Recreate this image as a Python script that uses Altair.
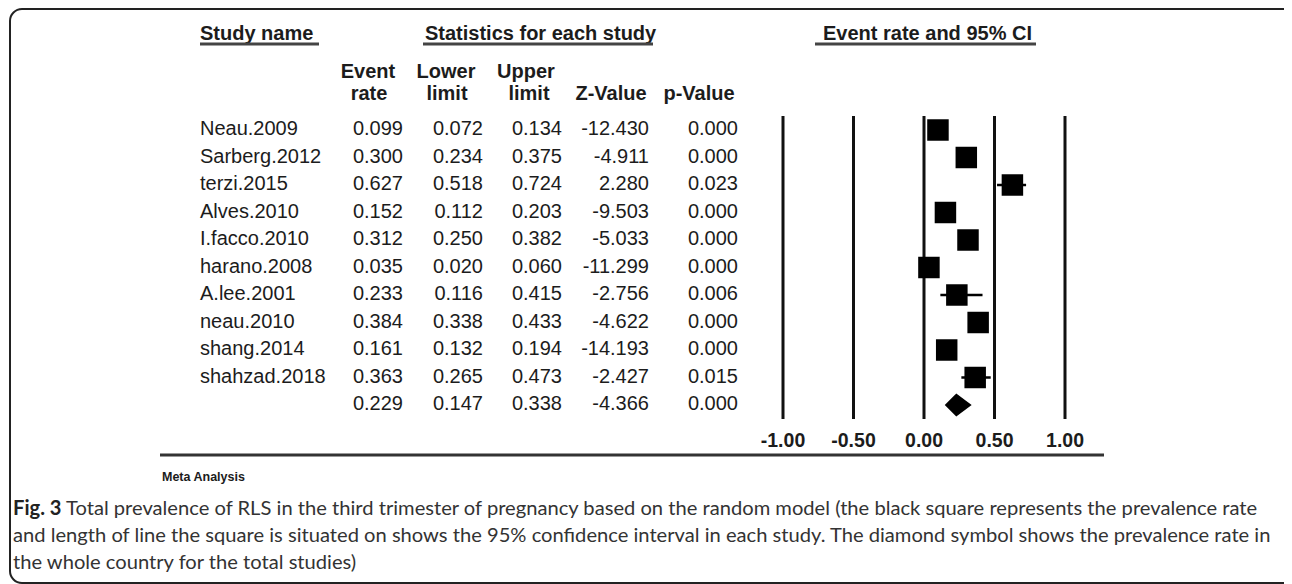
import altair as alt
import pandas as pd

# ---------------- data ----------------
studies = ["Neau.2009", "Sarberg.2012", "terzi.2015", "Alves.2010", "I.facco.2010",
           "harano.2008", "A.lee.2001", "neau.2010", "shang.2014", "shahzad.2018"]
event_rate = [0.099, 0.300, 0.627, 0.152, 0.312, 0.035, 0.233, 0.384, 0.161, 0.363]
lower_limit = [0.072, 0.234, 0.518, 0.112, 0.250, 0.020, 0.116, 0.338, 0.132, 0.265]
upper_limit = [0.134, 0.375, 0.724, 0.203, 0.382, 0.060, 0.415, 0.433, 0.194, 0.473]
z_value = [-12.430, -4.911, 2.280, -9.503, -5.033, -11.299, -2.756, -4.622, -14.193, -2.427]
p_value = [0.000, 0.000, 0.023, 0.000, 0.000, 0.000, 0.006, 0.000, 0.000, 0.015]

summary_rate = 0.229
summary_lower = 0.147
summary_upper = 0.338
summary_z = -4.366
summary_p = 0.000

axis_ticks = [-1.0, -0.5, 0.0, 0.5, 1.0]
axis_tick_labels = ["-1.00", "-0.50", "0.00", "0.50", "1.00"]

caption_bold = "Fig. 3"
caption_lines = [
    "Total prevalence of RLS in the third trimester of pregnancy based on the random model (the black square represents the prevalence rate",
    "and length of line the square is situated on shows the 95% confidence interval in each study. The diamond symbol shows the prevalence rate in",
    "the whole country for the total studies)",
]

# ---------------- tables ----------------
n = len(studies)
rows = list(range(n + 1))
table = pd.DataFrame({
    "row": rows,
    "name": studies + [""],
    "rate": [f"{v:.3f}" for v in event_rate + [summary_rate]],
    "lower": [f"{v:.3f}" for v in lower_limit + [summary_lower]],
    "upper": [f"{v:.3f}" for v in upper_limit + [summary_upper]],
    "z": [f"{v:.3f}" for v in z_value + [summary_z]],
    "p": [f"{v:.3f}" for v in p_value + [summary_p]],
})
studies_df = pd.DataFrame({
    "row": list(range(n)),
    "est": event_rate,
    "lo": lower_limit,
    "hi": upper_limit,
})
half = 0.42
diamond_df = pd.DataFrame({
    "x": [summary_lower, summary_rate, summary_upper],
    "y": [n, n - half, n],
    "y2": [n, n + half, n],
})
ticks_df = pd.DataFrame({"t": axis_ticks, "lab": axis_tick_labels})

TXT = "#1c1c1c"
FONT = "Liberation Sans"
one = alt.Data(values=[{"k": 0}])

xs = alt.Scale(domain=[-1, 1], range=[775, 1057], nice=False, zero=False)
ys = alt.Scale(domain=[0, 10], range=[122, 397], nice=False, zero=False)


def label(txt, x, y, size=20, weight="normal", align="left", font=FONT, color=TXT):
    return alt.Chart(one).mark_text(
        text=txt, fontSize=size, fontWeight=weight, align=align,
        baseline="alphabetic", font=font, color=color
    ).encode(x=alt.value(x), y=alt.value(y))


def hline(x1, x2, y, width=3, color="#444"):
    return alt.Chart(one).mark_rule(strokeWidth=width, color=color).encode(
        x=alt.value(x1), x2=alt.value(x2), y=alt.value(y))


layers = []

# border
layers.append(
    alt.Chart(one).mark_rect(fill="white", stroke="#222", strokeWidth=2, cornerRadius=12).encode(
        x=alt.value(2), x2=alt.value(1300), y=alt.value(1), y2=alt.value(575))
)

# group headers
layers += [
    label("Study name", 192, 32, weight="bold"),
    hline(192, 311, 36),
    label("Statistics for each study", 417, 32, weight="bold"),
    hline(415, 645, 36),
    label("Event rate and 95% CI", 815, 32, weight="bold"),
    hline(807, 1028, 36),
]

# column headers
layers += [
    label("Event", 360, 70, weight="bold", align="center"),
    label("rate", 361, 92, weight="bold", align="center"),
    label("Lower", 438, 70, weight="bold", align="center"),
    label("limit", 439, 92, weight="bold", align="center"),
    label("Upper", 518, 70, weight="bold", align="center"),
    label("limit", 521, 92, weight="bold", align="center"),
    label("Z-Value", 603, 92, weight="bold", align="center"),
    label("p-Value", 691, 92, weight="bold", align="center"),
]

# table body
base_txt = alt.Chart(table)
layers.append(
    base_txt.mark_text(align="left", baseline="alphabetic", dy=5, fontSize=20, font=FONT, color=TXT).encode(
        x=alt.value(192), y=alt.Y("row:Q", scale=ys, axis=None), text="name:N")
)
for col, xr in [("rate", 395), ("lower", 475), ("upper", 554), ("z", 641), ("p", 730)]:
    layers.append(
        base_txt.mark_text(align="right", baseline="alphabetic", dy=5, fontSize=20, font=FONT, color=TXT).encode(
            x=alt.value(xr), y=alt.Y("row:Q", scale=ys, axis=None), text=f"{col}:N")
    )

# forest plot reference lines
layers.append(
    alt.Chart(ticks_df).mark_rule(strokeWidth=3, color="#111").encode(
        x=alt.X("t:Q", scale=xs, axis=None), y=alt.value(108), y2=alt.value(411))
)
layers.append(
    alt.Chart(ticks_df).mark_text(fontSize=19.5, fontWeight="bold", font=FONT, color=TXT,
                                  baseline="alphabetic", align="center").encode(
        x=alt.X("t:Q", scale=xs, axis=None), y=alt.value(439), text="lab:N")
)

# CI lines and squares
layers.append(
    alt.Chart(studies_df).mark_rule(strokeWidth=2.5, color="black").encode(
        x=alt.X("lo:Q", scale=xs, axis=None), x2="hi:Q", y=alt.Y("row:Q", scale=ys, axis=None))
)
layers.append(
    alt.Chart(studies_df).mark_square(size=462, color="black", opacity=1, filled=True).encode(
        x=alt.X("est:Q", scale=xs, axis=None), y=alt.Y("row:Q", scale=ys, axis=None))
)
layers.append(
    alt.Chart(diamond_df).mark_area(color="black", orient="vertical", opacity=1).encode(
        x=alt.X("x:Q", scale=xs, axis=None), y=alt.Y("y:Q", scale=ys, axis=None), y2="y2:Q")
)

# bottom rule and footer
layers += [
    hline(152, 1096, 447, width=3, color="#333"),
    label("Meta Analysis", 154, 473, size=12.5, weight="bold"),
]

# caption
CAP = "#333333"
CS = 20.15
layers += [
    label(caption_bold, 5, 507, size=CS, weight="bold", font="Lato", color="#222"),
    label(caption_lines[0], 58, 507, size=CS, font="Lato", color=CAP),
    label(caption_lines[1], 5, 534, size=CS, font="Lato", color=CAP),
    label(caption_lines[2], 5, 561, size=CS, font="Lato", color=CAP),
]

chart = alt.layer(*layers).properties(
    width=1276, height=576, padding=0, autosize="none", background="white"
).configure_view(stroke=None)

chart.save("out.html", embed_options={"renderer": "svg", "actions": False})
